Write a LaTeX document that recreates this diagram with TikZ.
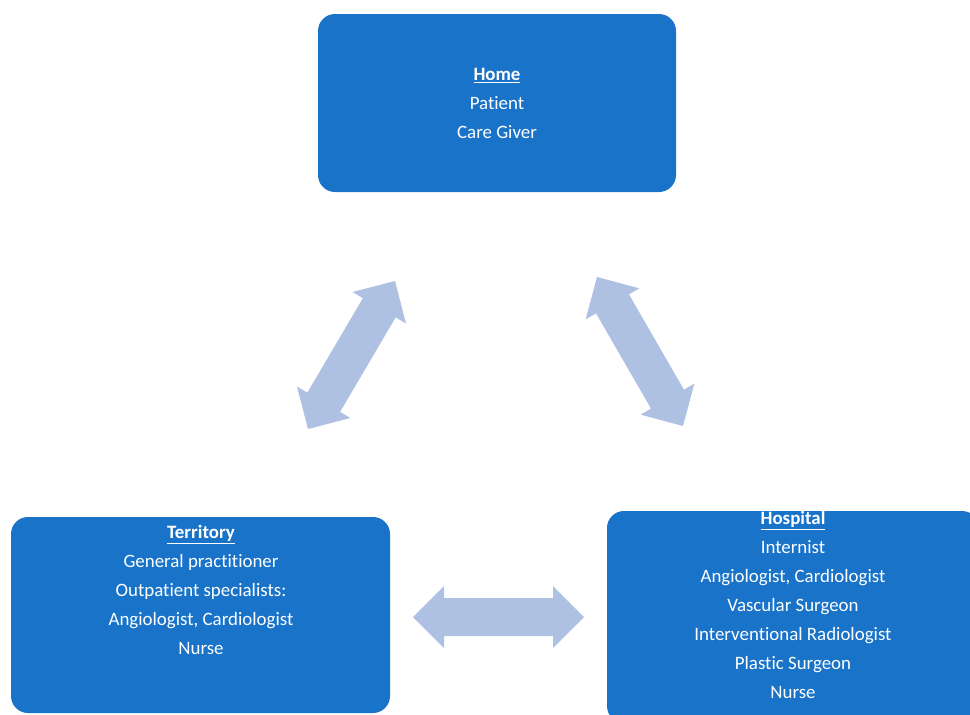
\documentclass[tikz,border=0pt]{standalone}
\usepackage{fontspec}
\setmainfont{Carlito}[Ligatures={NoCommon,NoRare,NoContextual}]
\usetikzlibrary{calc}
\definecolor{boxblue}{RGB}{24,115,201}
\definecolor{arrowblue}{RGB}{175,193,226}
\tikzset{
  box/.style={draw=none, fill=boxblue, rounded corners=17pt, inner sep=0pt},
  boxtext/.style={text=white, align=center, inner sep=0pt, anchor=north,
    font=\fontsize{18.9}{29}\selectfont},
  arrowfill/.style={fill=arrowblue}
}
\newcommand\dblarr[2]{%
  \fill[arrowfill] (#1)
  -- ($(#1)!31pt!(#2)!31pt!90:(#2)$)
  -- ($(#1)!31pt!(#2)!19pt!90:(#2)$)
  -- ($(#2)!31pt!(#1)!19pt!-90:(#1)$)
  -- ($(#2)!31pt!(#1)!31pt!-90:(#1)$)
  -- (#2)
  -- ($(#2)!31pt!(#1)!31pt!90:(#1)$)
  -- ($(#2)!31pt!(#1)!19pt!90:(#1)$)
  -- ($(#1)!31pt!(#2)!19pt!-90:(#2)$)
  -- ($(#1)!31pt!(#2)!31pt!-90:(#2)$)
  -- cycle;}
\begin{document}
\begin{tikzpicture}[x=1pt,y=-1pt]
\useasboundingbox (0,0) rectangle (970,715);
\clip (0,0) rectangle (970,715);
\fill[white] (0,0) rectangle (970,715);
% boxes
\node[box, minimum width=358pt, minimum height=178pt] (home) at (497,103) {};
\node[box, minimum width=379pt, minimum height=196pt] (territory) at (200.5,615) {};
\node[box, minimum width=372pt, minimum height=212pt] (hospital) at (793,617) {};
% texts
\node[boxtext] (hometext) at (497,68) {\underline{\textbf{Home}}\\Patient\\Care Giver};
\node[boxtext] (territorytext) at (201,525) {\underline{\textbf{Territory}}\\General practitioner\\Outpatient specialists:\\Angiologist, Cardiologist\\Nurse};
\node[boxtext] (hospitaltext) at (793,511) {\underline{\textbf{Hospital}}\\Internist\\Angiologist, Cardiologist\\Vascular Surgeon\\Interventional Radiologist\\Plastic Surgeon\\Nurse};
% arrow end points
\coordinate (l1) at (308,429);
\coordinate (l2) at (395,281);
\coordinate (r1) at (597,277);
\coordinate (r2) at (683,426);
\coordinate (h1) at (413,617);
\coordinate (h2) at (584,617);
\dblarr{l1}{l2}
\dblarr{r1}{r2}
\dblarr{h1}{h2}
\end{tikzpicture}
\end{document}
